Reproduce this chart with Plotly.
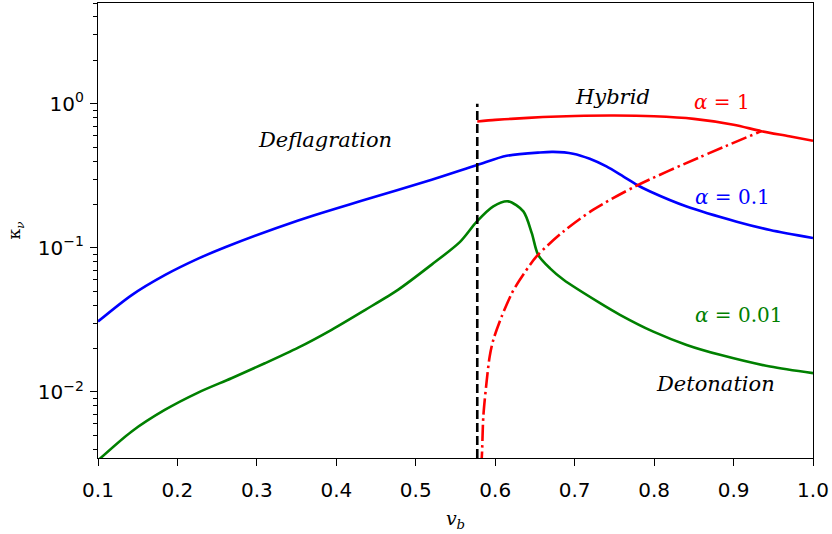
import math
import plotly.graph_objects as go

# Wall-velocity grid and efficiency factors for each alpha
x_a1 = [0.5774, 0.60, 0.62, 0.66, 0.70, 0.75, 0.80, 0.85, 0.90, 0.935, 0.97, 1.0]
k_a1 = [0.753, 0.772, 0.785, 0.808, 0.822, 0.828, 0.818, 0.785, 0.715, 0.645, 0.595, 0.553]

x_a01 = [0.1, 0.142, 0.184, 0.226, 0.26, 0.352, 0.436, 0.52, 0.578, 0.6144, 0.6564, 0.673,
         0.698, 0.719, 0.740, 0.761, 0.778, 0.795, 0.841, 0.904, 0.946, 1.0]
k_a01 = [0.0308, 0.0468, 0.0646, 0.0841, 0.101, 0.155, 0.2155, 0.297, 0.377, 0.435, 0.459, 0.463,
         0.45, 0.415, 0.367, 0.313, 0.274, 0.246, 0.1935, 0.152, 0.133, 0.117]

x_a001 = [0.1, 0.142, 0.184, 0.226, 0.268, 0.31, 0.352, 0.394, 0.436, 0.478, 0.52, 0.5557,
          0.5767, 0.5976, 0.6165, 0.6354, 0.646, 0.654, 0.669, 0.686, 0.732, 0.757, 0.799,
          0.841, 0.883, 0.946, 1.0]
k_a001 = [0.00335, 0.0053, 0.0075, 0.0099, 0.01245, 0.0158, 0.0203, 0.027, 0.037, 0.0513, 0.0765,
          0.110, 0.152, 0.194, 0.210, 0.179, 0.1265, 0.0894, 0.072, 0.060, 0.0413, 0.0343,
          0.0262, 0.0212, 0.0181, 0.015, 0.0135]

# Jouguet boundary between hybrid and detonation branches
x_jouguet = [0.5815, 0.583, 0.585, 0.589, 0.593, 0.5976, 0.608, 0.621, 0.631, 0.652, 0.686,
             0.7235, 0.778, 0.856, 0.935]
k_jouguet = [0.0030, 0.00347, 0.00674, 0.01155, 0.01758, 0.0230, 0.0333, 0.0485, 0.060, 0.0871,
             0.130, 0.184, 0.270, 0.422, 0.645]

# Speed of sound marker
cs = 0.5774
x_cs = [cs, cs]
k_cs = [0.001, 1.0]

x_ticks = [0.1, 0.2, 0.3, 0.4, 0.5, 0.6, 0.7, 0.8, 0.9, 1.0]
x_ticktext = ["0.1", "0.2", "0.3", "0.4", "0.5", "0.6", "0.7", "0.8", "0.9", "1.0"]
y_ticks = [0.01, 0.1, 1.0]
y_ticktext = ["10<sup>\u22122</sup>", "10<sup>\u22121</sup>", "10<sup>0</sup>"]
y_minor = [m * 10 ** e for e in (-3, -2, -1, 0) for m in range(2, 10)]

region_labels = ["Deflagration", "Hybrid", "Detonation"]
region_x = [0.386, 0.747, 0.877]
region_y = [0.56, 1.12, 0.0114]

alpha_labels = ["<i>\u03b1</i> = 1", "<i>\u03b1</i> = 0.1", "<i>\u03b1</i> = 0.01"]
alpha_x = [0.886, 0.899, 0.907]
alpha_y = [1.03, 0.226, 0.0343]
alpha_colors = ["red", "blue", "green"]

LW = 2.6
SM = 0.8
fig = go.Figure()
fig.add_trace(go.Scatter(x=x_a01, y=k_a01, mode="lines",
                         line=dict(color="blue", width=LW, shape="spline", smoothing=SM)))
fig.add_trace(go.Scatter(x=x_a001, y=k_a001, mode="lines",
                         line=dict(color="green", width=LW, shape="spline", smoothing=SM)))
fig.add_trace(go.Scatter(x=x_a1, y=k_a1, mode="lines",
                         line=dict(color="red", width=LW, shape="spline", smoothing=SM)))
fig.add_trace(go.Scatter(x=x_jouguet, y=k_jouguet, mode="lines",
                         line=dict(color="red", width=LW, dash="16px,4px,2.5px,4px",
                                   shape="spline", smoothing=SM)))
fig.add_trace(go.Scatter(x=x_cs, y=k_cs, mode="lines",
                         line=dict(color="black", width=LW, dash="9px,4px")))

for t, xx, yy in zip(region_labels, region_x, region_y):
    fig.add_annotation(x=xx, y=math.log10(yy), text="<i>" + t + "</i>", showarrow=False,
                       font=dict(family="DejaVu Serif", size=21, color="black"))
for t, xx, yy, c in zip(alpha_labels, alpha_x, alpha_y, alpha_colors):
    fig.add_annotation(x=xx, y=math.log10(yy), text=t, showarrow=False,
                       font=dict(family="DejaVu Serif", size=20, color=c))

fig.update_layout(
    width=832, height=534,
    margin=dict(l=98, r=19, t=3, b=76),
    plot_bgcolor="white", paper_bgcolor="white",
    showlegend=False,
    font=dict(family="DejaVu Sans", size=20, color="black"),
    xaxis=dict(range=[0.1, 1.0], tickvals=x_ticks, ticktext=x_ticktext,
               ticks="outside", ticklen=7, tickwidth=1.2, tickcolor="black",
               ticklabelstandoff=7,
               showline=True, linecolor="black", linewidth=1.2, mirror=True,
               showgrid=False, zeroline=False,
               title=dict(text="<i>v</i><sub><i>b</i></sub>", standoff=10,
                          font=dict(family="DejaVu Serif", size=19))),
    yaxis=dict(type="log", range=[math.log10(0.00348), math.log10(5.0)],
               tickvals=y_ticks, ticktext=y_ticktext,
               ticks="outside", ticklen=7, tickwidth=1.2, tickcolor="black",
               ticklabelstandoff=2,
               minor=dict(tickvals=y_minor, ticks="outside", ticklen=4, tickwidth=1,
                          tickcolor="black", showgrid=False),
               showline=True, linecolor="black", linewidth=1.2, mirror=True,
               showgrid=False, zeroline=False,
               title=dict(text="\u03ba<sub><i>\u03bd</i></sub>", standoff=12,
                          font=dict(family="DejaVu Serif", size=17))),
)

fig.write_html("out.html")
